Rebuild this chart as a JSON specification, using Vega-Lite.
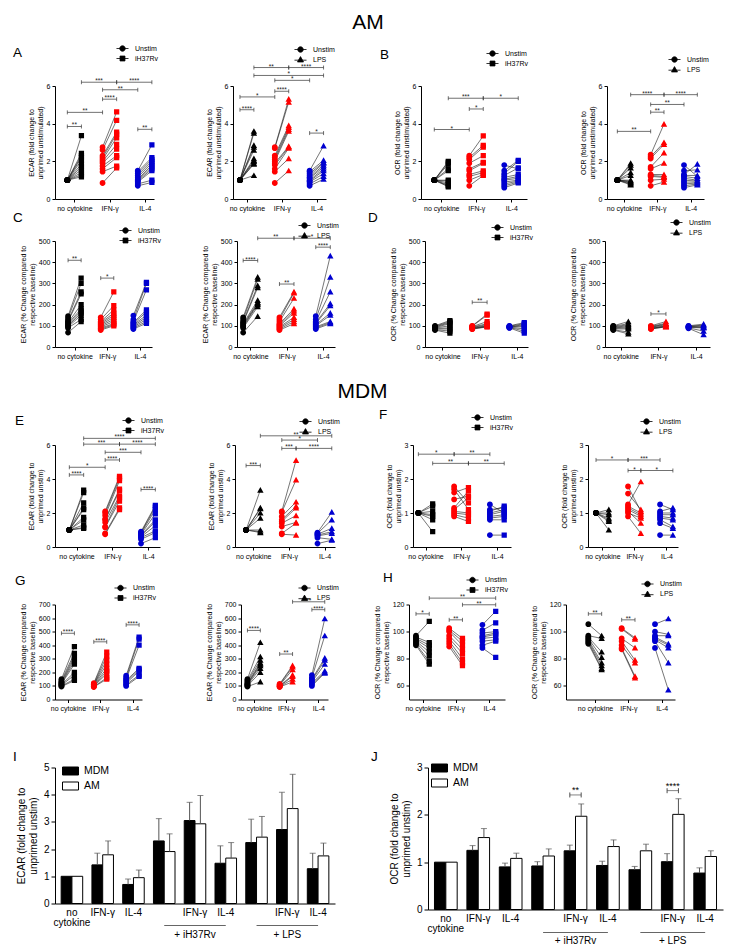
{
"$schema":"https://vega.github.io/schema/vega-lite/v6.json",
"background":"white",
"padding":{"left":13,"top":12,"right":2,"bottom":0},
"config":{
 "view":{"stroke":null},
 "font":"Liberation Sans",
 "title":{"font":"Liberation Sans","fontWeight":"normal","color":"#000"},
 "axis":{"grid":false,"domainColor":"#000","tickColor":"#000","labelColor":"#000","titleColor":"#000","labelFont":"Liberation Sans","titleFont":"Liberation Sans","labelFontSize":7,"titleFontSize":7,"titleFontWeight":"normal","tickSize":3,"labelPadding":2,"titlePadding":3,"titleLineHeight":8.5,"domainWidth":1,"tickWidth":1,"labelFlush":false,"labelOverlap":false},
 "legend":{"labelFont":"Liberation Sans","labelFontSize":7,"labelColor":"#000","symbolSize":30,"symbolStrokeColor":"#000","symbolStrokeWidth":0.8,"labelOffset":9,"rowPadding":1,"padding":0}
},
"datasets":{
"A1p":[{"g":"N","u":1,"s":3.36},{"g":"N","u":1,"s":2.42},{"g":"N","u":1,"s":2.3},{"g":"N","u":1,"s":2.2},{"g":"N","u":1,"s":2.05},{"g":"N","u":1,"s":1.85},{"g":"N","u":1,"s":1.7},{"g":"N","u":1,"s":1.55},{"g":"N","u":1,"s":1.4},{"g":"N","u":1,"s":1.28},{"g":"N","u":1,"s":1.18},{"g":"I","u":2.75,"s":4.62},{"g":"I","u":2.6,"s":4.18},{"g":"I","u":2.3,"s":3.55},{"g":"I","u":2.2,"s":3.45},{"g":"I","u":2.1,"s":3.25},{"g":"I","u":2.0,"s":2.9},{"g":"I","u":1.9,"s":2.65},{"g":"I","u":1.75,"s":2.3},{"g":"I","u":1.6,"s":2.2},{"g":"I","u":1.45,"s":1.75},{"g":"I","u":0.85,"s":1.65},{"g":"L","u":1.5,"s":2.88},{"g":"L","u":1.45,"s":2.2},{"g":"L","u":1.35,"s":2.1},{"g":"L","u":1.25,"s":2.0},{"g":"L","u":1.15,"s":1.9},{"g":"L","u":1.05,"s":1.8},{"g":"L","u":1.0,"s":1.7},{"g":"L","u":0.95,"s":1.6},{"g":"L","u":0.9,"s":1.5},{"g":"L","u":0.8,"s":1.0},{"g":"L","u":0.7,"s":0.88}],
"A1b":[{"a":"Nu","b":"Ns","y":3.85,"t":"**"},{"a":"Nu","b":"Iu","y":4.6,"t":"**"},{"a":"Iu","b":"Is","y":5.3,"t":"****"},{"a":"Iu","b":"Lu","y":5.8,"t":"**"},{"a":"Ns","b":"Is","y":6.2,"t":"***"},{"a":"Is","b":"Ls","y":6.2,"t":"****"},{"a":"Lu","b":"Ls","y":3.7,"t":"**"}],
"A2p":[{"g":"N","u":1,"s":3.6},{"g":"N","u":1,"s":3.5},{"g":"N","u":1,"s":2.85},{"g":"N","u":1,"s":2.75},{"g":"N","u":1,"s":2.6},{"g":"N","u":1,"s":2.15},{"g":"N","u":1,"s":2.05},{"g":"N","u":1,"s":2.0},{"g":"N","u":1,"s":1.9},{"g":"N","u":1,"s":1.85},{"g":"N","u":1,"s":1.25},{"g":"I","u":2.75,"s":5.3},{"g":"I","u":2.7,"s":5.15},{"g":"I","u":2.3,"s":3.9},{"g":"I","u":2.2,"s":3.8},{"g":"I","u":2.1,"s":3.7},{"g":"I","u":2.0,"s":3.6},{"g":"I","u":1.9,"s":2.8},{"g":"I","u":1.8,"s":2.75},{"g":"I","u":1.6,"s":2.7},{"g":"I","u":1.45,"s":2.15},{"g":"I","u":0.85,"s":1.5},{"g":"L","u":1.5,"s":2.82},{"g":"L","u":1.45,"s":2.05},{"g":"L","u":1.35,"s":1.95},{"g":"L","u":1.25,"s":1.9},{"g":"L","u":1.15,"s":1.8},{"g":"L","u":1.1,"s":1.7},{"g":"L","u":1.0,"s":1.6},{"g":"L","u":0.95,"s":1.5},{"g":"L","u":0.9,"s":1.35},{"g":"L","u":0.8,"s":1.2},{"g":"L","u":0.7,"s":1.05}],
"A2b":[{"a":"Nu","b":"Ns","y":4.74,"t":"****"},{"a":"Nu","b":"Iu","y":5.42,"t":"*"},{"a":"Iu","b":"Is","y":5.72,"t":"****"},{"a":"Iu","b":"Lu","y":6.3,"t":"*"},{"a":"Ns","b":"Ls","y":6.56,"t":"*"},{"a":"Ns","b":"Is","y":6.98,"t":"**"},{"a":"Is","b":"Ls","y":6.98,"t":"****"},{"a":"Lu","b":"Ls","y":3.5,"t":"*"}],
"B1p":[{"g":"N","u":1,"s":2.0},{"g":"N","u":1,"s":1.95},{"g":"N","u":1,"s":1.85},{"g":"N","u":1,"s":1.6},{"g":"N","u":1,"s":1.5},{"g":"N","u":1,"s":1.0},{"g":"N","u":1,"s":0.95},{"g":"N","u":1,"s":0.85},{"g":"N","u":1,"s":0.75},{"g":"N","u":1,"s":0.7},{"g":"N","u":1,"s":0.65},{"g":"I","u":2.3,"s":3.35},{"g":"I","u":2.2,"s":2.85},{"g":"I","u":2.1,"s":2.75},{"g":"I","u":1.9,"s":2.3},{"g":"I","u":1.6,"s":1.95},{"g":"I","u":1.5,"s":1.9},{"g":"I","u":1.3,"s":1.5},{"g":"I","u":1.2,"s":1.4},{"g":"I","u":1.0,"s":1.3},{"g":"I","u":0.7,"s":1.25},{"g":"L","u":1.8,"s":1.6},{"g":"L","u":1.5,"s":2.05},{"g":"L","u":1.35,"s":2.0},{"g":"L","u":1.25,"s":1.65},{"g":"L","u":1.15,"s":1.3},{"g":"L","u":1.05,"s":1.2},{"g":"L","u":1.0,"s":1.1},{"g":"L","u":0.9,"s":1.0},{"g":"L","u":0.8,"s":0.95},{"g":"L","u":0.7,"s":0.9},{"g":"L","u":0.6,"s":0.85}],
"B1b":[{"a":"Nu","b":"Iu","y":3.69,"t":"*"},{"a":"Iu","b":"Is","y":4.78,"t":"*"},{"a":"Ns","b":"Is","y":5.35,"t":"***"},{"a":"Is","b":"Ls","y":5.35,"t":"*"}],
"B2p":[{"g":"N","u":1,"s":1.9},{"g":"N","u":1,"s":1.8},{"g":"N","u":1,"s":1.65},{"g":"N","u":1,"s":1.4},{"g":"N","u":1,"s":1.25},{"g":"N","u":1,"s":1.0},{"g":"N","u":1,"s":0.95},{"g":"N","u":1,"s":0.9},{"g":"N","u":1,"s":0.85},{"g":"N","u":1,"s":0.8},{"g":"N","u":1,"s":0.75},{"g":"I","u":2.35,"s":3.98},{"g":"I","u":2.25,"s":3.0},{"g":"I","u":2.15,"s":2.9},{"g":"I","u":1.7,"s":2.45},{"g":"I","u":1.6,"s":1.9},{"g":"I","u":1.3,"s":1.3},{"g":"I","u":1.25,"s":1.2},{"g":"I","u":1.2,"s":1.15},{"g":"I","u":1.0,"s":1.05},{"g":"I","u":0.7,"s":0.9},{"g":"L","u":1.8,"s":1.2},{"g":"L","u":1.5,"s":1.55},{"g":"L","u":1.3,"s":1.85},{"g":"L","u":1.25,"s":1.25},{"g":"L","u":1.2,"s":1.1},{"g":"L","u":1.1,"s":1.0},{"g":"L","u":1.0,"s":0.95},{"g":"L","u":0.9,"s":0.9},{"g":"L","u":0.8,"s":0.85},{"g":"L","u":0.7,"s":0.8},{"g":"L","u":0.6,"s":0.75}],
"B2b":[{"a":"Nu","b":"Iu","y":3.59,"t":"**"},{"a":"Iu","b":"Is","y":4.61,"t":"**"},{"a":"Iu","b":"Lu","y":5.02,"t":"**"},{"a":"Ns","b":"Is","y":5.54,"t":"****"},{"a":"Is","b":"Ls","y":5.54,"t":"****"}],
"C1p":[{"g":"N","u":145,"s":325},{"g":"N","u":135,"s":300},{"g":"N","u":125,"s":260},{"g":"N","u":120,"s":250},{"g":"N","u":115,"s":200},{"g":"N","u":110,"s":180},{"g":"N","u":105,"s":170},{"g":"N","u":100,"s":160},{"g":"N","u":95,"s":150},{"g":"N","u":90,"s":130},{"g":"N","u":68,"s":120},{"g":"I","u":140,"s":260},{"g":"I","u":130,"s":195},{"g":"I","u":120,"s":175},{"g":"I","u":115,"s":160},{"g":"I","u":110,"s":150},{"g":"I","u":105,"s":140},{"g":"I","u":100,"s":130},{"g":"I","u":95,"s":120},{"g":"I","u":90,"s":110},{"g":"I","u":85,"s":105},{"g":"I","u":80,"s":100},{"g":"L","u":148,"s":305},{"g":"L","u":130,"s":300},{"g":"L","u":120,"s":270},{"g":"L","u":115,"s":175},{"g":"L","u":110,"s":165},{"g":"L","u":105,"s":150},{"g":"L","u":100,"s":140},{"g":"L","u":95,"s":130},{"g":"L","u":90,"s":120},{"g":"L","u":85,"s":112}],
"C1b":[{"a":"Nu","b":"Ns","y":409,"t":"**"},{"a":"Iu","b":"Is","y":325,"t":"*"}],
"C2p":[{"g":"N","u":140,"s":330},{"g":"N","u":130,"s":320},{"g":"N","u":120,"s":290},{"g":"N","u":115,"s":280},{"g":"N","u":110,"s":220},{"g":"N","u":105,"s":210},{"g":"N","u":100,"s":205},{"g":"N","u":95,"s":200},{"g":"N","u":90,"s":190},{"g":"N","u":68,"s":145},{"g":"I","u":140,"s":260},{"g":"I","u":130,"s":255},{"g":"I","u":120,"s":230},{"g":"I","u":110,"s":180},{"g":"I","u":105,"s":170},{"g":"I","u":100,"s":160},{"g":"I","u":95,"s":140},{"g":"I","u":90,"s":130},{"g":"I","u":85,"s":120},{"g":"I","u":80,"s":110},{"g":"L","u":145,"s":430},{"g":"L","u":130,"s":330},{"g":"L","u":120,"s":260},{"g":"L","u":115,"s":205},{"g":"L","u":110,"s":195},{"g":"L","u":105,"s":160},{"g":"L","u":100,"s":150},{"g":"L","u":95,"s":120},{"g":"L","u":90,"s":115},{"g":"L","u":85,"s":110}],
"C2b":[{"a":"Nu","b":"Ns","y":408,"t":"****"},{"a":"Iu","b":"Is","y":297,"t":"**"},{"a":"Lu","b":"Ls","y":471,"t":"****"},{"a":"Ns","b":"Is","y":513,"t":"**"},{"a":"Is","b":"Ls","y":513,"t":"*"}],
"D1p":[{"g":"N","u":100,"s":125},{"g":"N","u":97,"s":120},{"g":"N","u":95,"s":115},{"g":"N","u":92,"s":110},{"g":"N","u":90,"s":100},{"g":"N","u":88,"s":90},{"g":"N","u":85,"s":85},{"g":"N","u":82,"s":75},{"g":"N","u":80,"s":65},{"g":"I","u":100,"s":155},{"g":"I","u":98,"s":150},{"g":"I","u":96,"s":120},{"g":"I","u":94,"s":110},{"g":"I","u":92,"s":105},{"g":"I","u":90,"s":100},{"g":"I","u":88,"s":98},{"g":"I","u":86,"s":96},{"g":"I","u":84,"s":95},{"g":"L","u":100,"s":115},{"g":"L","u":98,"s":110},{"g":"L","u":96,"s":105},{"g":"L","u":95,"s":100},{"g":"L","u":94,"s":95},{"g":"L","u":93,"s":85},{"g":"L","u":92,"s":75},{"g":"L","u":90,"s":65}],
"D1b":[{"a":"Iu","b":"Is","y":211,"t":"**"}],
"D2p":[{"g":"N","u":100,"s":120},{"g":"N","u":98,"s":110},{"g":"N","u":95,"s":105},{"g":"N","u":93,"s":100},{"g":"N","u":90,"s":95},{"g":"N","u":88,"s":90},{"g":"N","u":85,"s":85},{"g":"N","u":82,"s":70},{"g":"N","u":80,"s":62},{"g":"I","u":100,"s":120},{"g":"I","u":97,"s":112},{"g":"I","u":95,"s":108},{"g":"I","u":93,"s":105},{"g":"I","u":90,"s":100},{"g":"I","u":88,"s":98},{"g":"I","u":86,"s":96},{"g":"I","u":85,"s":95},{"g":"L","u":100,"s":108},{"g":"L","u":98,"s":103},{"g":"L","u":96,"s":100},{"g":"L","u":95,"s":95},{"g":"L","u":94,"s":93},{"g":"L","u":92,"s":90},{"g":"L","u":90,"s":75},{"g":"L","u":88,"s":58}],
"D2b":[{"a":"Iu","b":"Is","y":156,"t":"*"}],
"E1p":[{"g":"N","u":1,"s":3.35},{"g":"N","u":1,"s":3.2},{"g":"N","u":1,"s":2.6},{"g":"N","u":1,"s":2.3},{"g":"N","u":1,"s":2.2},{"g":"N","u":1,"s":1.75},{"g":"N","u":1,"s":1.6},{"g":"N","u":1,"s":1.3},{"g":"N","u":1,"s":1.15},{"g":"N","u":1,"s":1.1},{"g":"I","u":2.1,"s":4.15},{"g":"I","u":2.0,"s":4.05},{"g":"I","u":1.85,"s":3.9},{"g":"I","u":1.65,"s":3.4},{"g":"I","u":1.6,"s":3.3},{"g":"I","u":1.45,"s":3.0},{"g":"I","u":1.2,"s":2.9},{"g":"I","u":1.15,"s":2.7},{"g":"I","u":0.8,"s":2.3},{"g":"I","u":0.75,"s":2.2},{"g":"L","u":0.9,"s":2.45},{"g":"L","u":0.85,"s":2.35},{"g":"L","u":0.8,"s":2.2},{"g":"L","u":0.75,"s":1.95},{"g":"L","u":0.7,"s":1.6},{"g":"L","u":0.65,"s":1.5},{"g":"L","u":0.6,"s":1.25},{"g":"L","u":0.55,"s":0.95},{"g":"L","u":0.45,"s":0.85},{"g":"L","u":0.2,"s":0.55}],
"E1b":[{"a":"Nu","b":"Ns","y":4.24,"t":"****"},{"a":"Nu","b":"Iu","y":4.69,"t":"*"},{"a":"Iu","b":"Is","y":5.12,"t":"****"},{"a":"Iu","b":"Lu","y":5.57,"t":"***"},{"a":"Ns","b":"Is","y":6.05,"t":"***"},{"a":"Is","b":"Ls","y":6.05,"t":"****"},{"a":"Ns","b":"Ls","y":6.39,"t":"****"},{"a":"Lu","b":"Ls","y":3.38,"t":"****"}],
"E2p":[{"g":"N","u":1,"s":3.35},{"g":"N","u":1,"s":2.3},{"g":"N","u":1,"s":2.25},{"g":"N","u":1,"s":2.0},{"g":"N","u":1,"s":1.7},{"g":"N","u":1,"s":1.0},{"g":"N","u":1,"s":0.9},{"g":"N","u":1,"s":0.85},{"g":"I","u":2.1,"s":5.1},{"g":"I","u":2.05,"s":3.95},{"g":"I","u":1.8,"s":2.65},{"g":"I","u":1.6,"s":2.4},{"g":"I","u":1.5,"s":2.3},{"g":"I","u":1.4,"s":1.85},{"g":"I","u":1.2,"s":1.45},{"g":"I","u":0.8,"s":1.4},{"g":"I","u":0.75,"s":0.7},{"g":"L","u":0.85,"s":2.05},{"g":"L","u":0.8,"s":1.6},{"g":"L","u":0.75,"s":1.1},{"g":"L","u":0.7,"s":0.9},{"g":"L","u":0.65,"s":0.8},{"g":"L","u":0.55,"s":0.45},{"g":"L","u":0.2,"s":0.4}],
"E2b":[{"a":"Nu","b":"Ns","y":4.79,"t":"***"},{"a":"Iu","b":"Is","y":5.8,"t":"***"},{"a":"Is","b":"Ls","y":5.8,"t":"****"},{"a":"Iu","b":"Lu","y":6.29,"t":"*"},{"a":"Ns","b":"Ls","y":6.54,"t":"**"}],
"F1p":[{"g":"N","u":1,"s":1.27},{"g":"N","u":1,"s":1.2},{"g":"N","u":1,"s":1.05},{"g":"N","u":1,"s":0.95},{"g":"N","u":1,"s":0.9},{"g":"N","u":1,"s":0.8},{"g":"N","u":1,"s":0.45},{"g":"I","u":1.78,"s":1.3},{"g":"I","u":1.7,"s":1.1},{"g":"I","u":1.6,"s":1.75},{"g":"I","u":1.4,"s":1.5},{"g":"I","u":1.15,"s":1.65},{"g":"I","u":1.1,"s":1.45},{"g":"I","u":1.05,"s":1.0},{"g":"I","u":1.0,"s":0.95},{"g":"I","u":0.95,"s":0.85},{"g":"I","u":0.9,"s":0.75},{"g":"L","u":1.25,"s":1.0},{"g":"L","u":1.1,"s":1.15},{"g":"L","u":1.05,"s":1.2},{"g":"L","u":1.0,"s":1.1},{"g":"L","u":0.95,"s":1.05},{"g":"L","u":0.9,"s":0.95},{"g":"L","u":0.85,"s":0.9},{"g":"L","u":0.8,"s":0.8},{"g":"L","u":0.35,"s":0.35}],
"F1b":[{"a":"Nu","b":"Iu","y":2.73,"t":"*"},{"a":"Iu","b":"Lu","y":2.73,"t":"**"},{"a":"Ns","b":"Is","y":2.46,"t":"**"},{"a":"Is","b":"Ls","y":2.46,"t":"**"}],
"F2p":[{"g":"N","u":1,"s":1.1},{"g":"N","u":1,"s":1.0},{"g":"N","u":1,"s":0.95},{"g":"N","u":1,"s":0.85},{"g":"N","u":1,"s":0.8},{"g":"N","u":1,"s":0.75},{"g":"N","u":1,"s":0.5},{"g":"I","u":1.78,"s":1.05},{"g":"I","u":1.57,"s":1.1},{"g":"I","u":1.25,"s":1.92},{"g":"I","u":1.2,"s":1.0},{"g":"I","u":1.15,"s":0.95},{"g":"I","u":1.1,"s":0.9},{"g":"I","u":1.05,"s":0.7},{"g":"I","u":1.0,"s":0.85},{"g":"I","u":0.9,"s":0.4},{"g":"L","u":1.25,"s":1.1},{"g":"L","u":1.05,"s":1.15},{"g":"L","u":1.0,"s":1.0},{"g":"L","u":0.95,"s":0.95},{"g":"L","u":0.9,"s":0.85},{"g":"L","u":0.85,"s":0.8},{"g":"L","u":0.8,"s":0.6},{"g":"L","u":0.7,"s":0.55},{"g":"L","u":0.35,"s":0.35}],
"F2b":[{"a":"Nu","b":"Iu","y":2.56,"t":"*"},{"a":"Iu","b":"Lu","y":2.56,"t":"***"},{"a":"Iu","b":"Is","y":2.25,"t":"*"},{"a":"Is","b":"Ls","y":2.25,"t":"*"}],
"G1p":[{"g":"N","u":150,"s":390},{"g":"N","u":140,"s":340},{"g":"N","u":130,"s":320},{"g":"N","u":125,"s":300},{"g":"N","u":120,"s":280},{"g":"N","u":115,"s":260},{"g":"N","u":110,"s":200},{"g":"N","u":105,"s":180},{"g":"N","u":100,"s":150},{"g":"N","u":95,"s":140},{"g":"I","u":120,"s":350},{"g":"I","u":115,"s":320},{"g":"I","u":110,"s":290},{"g":"I","u":108,"s":260},{"g":"I","u":105,"s":230},{"g":"I","u":100,"s":210},{"g":"I","u":98,"s":190},{"g":"I","u":95,"s":160},{"g":"I","u":92,"s":150},{"g":"L","u":175,"s":460},{"g":"L","u":160,"s":445},{"g":"L","u":150,"s":400},{"g":"L","u":140,"s":230},{"g":"L","u":130,"s":220},{"g":"L","u":120,"s":210},{"g":"L","u":110,"s":180},{"g":"L","u":100,"s":170}],
"G1b":[{"a":"Nu","b":"Ns","y":488,"t":"****"},{"a":"Iu","b":"Is","y":425,"t":"****"},{"a":"Lu","b":"Ls","y":550,"t":"****"}],
"G2p":[{"g":"N","u":150,"s":420},{"g":"N","u":140,"s":315},{"g":"N","u":130,"s":290},{"g":"N","u":120,"s":270},{"g":"N","u":115,"s":260},{"g":"N","u":110,"s":250},{"g":"N","u":105,"s":230},{"g":"N","u":100,"s":200},{"g":"N","u":95,"s":130},{"g":"I","u":115,"s":250},{"g":"I","u":110,"s":240},{"g":"I","u":105,"s":220},{"g":"I","u":100,"s":180},{"g":"I","u":98,"s":170},{"g":"I","u":95,"s":150},{"g":"I","u":92,"s":130},{"g":"L","u":180,"s":595},{"g":"L","u":160,"s":470},{"g":"L","u":150,"s":305},{"g":"L","u":140,"s":290},{"g":"L","u":130,"s":260},{"g":"L","u":120,"s":210},{"g":"L","u":110,"s":200},{"g":"L","u":100,"s":195}],
"G2b":[{"a":"Nu","b":"Ns","y":509,"t":"****"},{"a":"Iu","b":"Is","y":335,"t":"**"},{"a":"Lu","b":"Ls","y":662,"t":"****"},{"a":"Is","b":"Ls","y":720,"t":"**"}],
"H1p":[{"g":"N","u":97,"s":107.5},{"g":"N","u":96,"s":92},{"g":"N","u":95,"s":90},{"g":"N","u":94,"s":88},{"g":"N","u":93,"s":85},{"g":"N","u":92,"s":82},{"g":"N","u":91,"s":78},{"g":"N","u":90,"s":76},{"g":"I","u":102.5,"s":95},{"g":"I","u":101,"s":93},{"g":"I","u":100,"s":90},{"g":"I","u":97,"s":87},{"g":"I","u":95,"s":84},{"g":"I","u":93,"s":80},{"g":"I","u":91,"s":77},{"g":"I","u":89,"s":75},{"g":"L","u":105,"s":115},{"g":"L","u":101,"s":106.5},{"g":"L","u":99,"s":100},{"g":"L","u":97,"s":99},{"g":"L","u":96,"s":98},{"g":"L","u":95,"s":96},{"g":"L","u":93,"s":94},{"g":"L","u":90,"s":93},{"g":"L","u":88,"s":81}],
"H1b":[{"a":"Nu","b":"Ns","y":113.1,"t":"*"},{"a":"Iu","b":"Is","y":108.7,"t":"**"},{"a":"Ns","b":"Ls","y":124.7,"t":"**"},{"a":"Is","b":"Ls","y":119.8,"t":"**"}],
"H2p":[{"g":"N","u":105.5,"s":97},{"g":"N","u":97,"s":95},{"g":"N","u":96,"s":85},{"g":"N","u":95,"s":81},{"g":"N","u":94,"s":77},{"g":"N","u":93,"s":75},{"g":"N","u":92,"s":73},{"g":"N","u":91,"s":72},{"g":"I","u":102.5,"s":95.5},{"g":"I","u":102,"s":94.5},{"g":"I","u":95,"s":88},{"g":"I","u":93,"s":79},{"g":"I","u":90,"s":77},{"g":"I","u":88,"s":67},{"g":"I","u":87,"s":66},{"g":"L","u":105.5,"s":109.5},{"g":"L","u":100,"s":98},{"g":"L","u":97,"s":97},{"g":"L","u":96,"s":91},{"g":"L","u":95,"s":90},{"g":"L","u":94,"s":88},{"g":"L","u":93,"s":77},{"g":"L","u":88,"s":57}],
"H2b":[{"a":"Nu","b":"Ns","y":113.1,"t":"**"},{"a":"Iu","b":"Is","y":108.7,"t":"**"}],
"Ib":[{"c":"nc","t":"MDM","m":1.0},{"c":"nc","t":"AM","m":1.0},{"c":"IFN","t":"MDM","m":1.42,"e":1.85},{"c":"IFN","t":"AM","m":1.79,"e":2.3},{"c":"IL4","t":"MDM","m":0.7,"e":0.9},{"c":"IL4","t":"AM","m":0.95,"e":1.23},{"c":"H","t":"MDM","m":2.3,"e":3.12},{"c":"H","t":"AM","m":1.91,"e":2.56},{"c":"HIFN","t":"MDM","m":3.05,"e":3.72},{"c":"HIFN","t":"AM","m":2.93,"e":3.97},{"c":"HIL4","t":"MDM","m":1.48,"e":2.12},{"c":"HIL4","t":"AM","m":1.67,"e":2.24},{"c":"L","t":"MDM","m":2.24,"e":3.1},{"c":"L","t":"AM","m":2.44,"e":3.2},{"c":"LIFN","t":"MDM","m":2.72,"e":4.09},{"c":"LIFN","t":"AM","m":3.49,"e":4.75},{"c":"LIL4","t":"MDM","m":1.28,"e":1.85},{"c":"LIL4","t":"AM","m":1.75,"e":2.22}],
"Jb":[{"c":"nc","t":"MDM","m":1.0},{"c":"nc","t":"AM","m":1.0},{"c":"IFN","t":"MDM","m":1.25,"e":1.35},{"c":"IFN","t":"AM","m":1.52,"e":1.71},{"c":"IL4","t":"MDM","m":0.9,"e":0.98},{"c":"IL4","t":"AM","m":1.08,"e":1.19},{"c":"H","t":"MDM","m":0.92,"e":1.01},{"c":"H","t":"AM","m":1.13,"e":1.28},{"c":"HIFN","t":"MDM","m":1.24,"e":1.36},{"c":"HIFN","t":"AM","m":1.97,"e":2.23},{"c":"HIL4","t":"MDM","m":0.93,"e":1.02},{"c":"HIL4","t":"AM","m":1.33,"e":1.47},{"c":"L","t":"MDM","m":0.84,"e":0.91},{"c":"L","t":"AM","m":1.24,"e":1.38},{"c":"LIFN","t":"MDM","m":1.01,"e":1.18},{"c":"LIFN","t":"AM","m":2.01,"e":2.34},{"c":"LIL4","t":"MDM","m":0.77,"e":0.88},{"c":"LIL4","t":"AM","m":1.12,"e":1.24}],
"Jbr":[{"c":"HIFN","y":2.42,"t":"**"},{"c":"LIFN","y":2.51,"t":"****"}],
"ann":[{"c":"H","c2":"HIL4","cm":"HIFN","t":"+ iH37Rv"},{"c":"L","c2":"LIL4","cm":"LIFN","t":"+ LPS"}]
},
"vconcat":[
{"vconcat":[
 {"title":{"text":"AM","fontSize":21,"anchor":"middle","frame":"bounds","offset":12,"dx":6},
  "vconcat":[
  {"hconcat":[
   {"hconcat":[
    {"width":99,"height":113,"title":{"text":"A","anchor":"start","frame":"bounds","fontSize":13.5,"offset":-14,"dx":-14.6},
     "encoding":{"x":{"field":"x","type":"quantitative","scale":{"domain":[-0.55,2.26],"nice":false,"zero":false},"axis":{"values":[0,1,2],"labelExpr":"['no cytokine','IFN-γ','IL-4'][datum.value]","title":null}},"y":{"field":"y","type":"quantitative","scale":{"domain":[0,6],"nice":false,"zero":false},"axis":{"values":[0,2,4,6],"title":["ECAR (fold change to","unprimed unstimulated)"]}}},
     "layer":[
      {"data":{"name":"A1p"},"transform":[{"calculate":"indexof(['N','I','L'],datum.g)","as":"c"}],"layer":[
       {"transform":[{"calculate":"datum.c-0.2","as":"x"},{"calculate":"datum.c+0.2","as":"x2"},{"calculate":"datum.u","as":"y"}],"mark":{"type":"rule","color":"#1a1a1a","strokeWidth":0.6},"encoding":{"x2":{"field":"x2"},"y2":{"field":"s"}}},
       {"transform":[{"fold":["u","s"],"as":["k","y"]},{"calculate":"datum.c+(datum.k=='u'?-0.2:0.2)","as":"x"}],"mark":{"type":"point","filled":true,"size":34,"opacity":1,"strokeWidth":0},"encoding":{"shape":{"field":"k","type":"nominal","scale":{"domain":["u","s"],"range":["M-2.2,0L2.2,0M1,0A1,1,0,1,1,-1,0A1,1,0,1,1,1,0Z","M-2.2,0L2.2,0M-0.9,-0.9L0.9,-0.9L0.9,0.9L-0.9,0.9Z"]},"legend":{"orient":"none","legendX":64,"legendY":-41,"title":null,"labelExpr":"datum.value=='u'?'Unstim':'iH37Rv'","symbolFillColor":"#000"}},"color":{"field":"g","type":"nominal","scale":{"domain":["N","I","L"],"range":["#000000","#ff0000","#0000d0"]},"legend":null}}}
      ]},
      {"data":{"name":"A1b"},"transform":[{"calculate":"indexof('NIL',substring(datum.a,0,1))+(substring(datum.a,1,2)=='u'?-0.2:0.2)","as":"x"},{"calculate":"indexof('NIL',substring(datum.b,0,1))+(substring(datum.b,1,2)=='u'?-0.2:0.2)","as":"x2"}],"layer":[
       {"mark":{"type":"rule","color":"#333","strokeWidth":0.7},"encoding":{"x2":{"field":"x2"}}},
       {"transform":[{"fold":["x","x2"],"as":["q","x"]}],"mark":{"type":"point","shape":"M0,-1L0,1","size":16,"filled":false,"color":"#333","strokeWidth":0.7,"opacity":1}},
       {"transform":[{"calculate":"(datum.x+datum.x2)/2","as":"x"}],"mark":{"type":"text","fontSize":6.5,"dy":-1,"baseline":"middle","color":"#222"},"encoding":{"text":{"field":"t"}}}
      ]}
     ]},
    {"width":93,"height":113,
     "encoding":{"x":{"field":"x","type":"quantitative","scale":{"domain":[-0.4,2.27],"nice":false,"zero":false},"axis":{"values":[0,1,2],"labelExpr":"['no cytokine','IFN-γ','IL-4'][datum.value]","title":null}},"y":{"field":"y","type":"quantitative","scale":{"domain":[0,6],"nice":false,"zero":false},"axis":{"values":[0,2,4,6],"title":["ECAR (fold change to","unprimed unstimulated)"]}}},
     "layer":[
      {"data":{"name":"A2p"},"transform":[{"calculate":"indexof(['N','I','L'],datum.g)","as":"c"}],"layer":[
       {"transform":[{"calculate":"datum.c-0.2","as":"x"},{"calculate":"datum.c+0.2","as":"x2"},{"calculate":"datum.u","as":"y"}],"mark":{"type":"rule","color":"#1a1a1a","strokeWidth":0.6},"encoding":{"x2":{"field":"x2"},"y2":{"field":"s"}}},
       {"transform":[{"fold":["u","s"],"as":["k","y"]},{"calculate":"datum.c+(datum.k=='u'?-0.2:0.2)","as":"x"}],"mark":{"type":"point","filled":true,"size":34,"opacity":1,"strokeWidth":0},"encoding":{"shape":{"field":"k","type":"nominal","scale":{"domain":["u","s"],"range":["M-2.2,0L2.2,0M1,0A1,1,0,1,1,-1,0A1,1,0,1,1,1,0Z","M-2.2,0.25L2.2,0.25M0,-1.05L1.1,0.9L-1.1,0.9Z"]},"legend":{"orient":"none","legendX":64,"legendY":-40,"title":null,"labelExpr":"datum.value=='u'?'Unstim':'LPS'","symbolFillColor":"#000"}},"color":{"field":"g","type":"nominal","scale":{"domain":["N","I","L"],"range":["#000000","#ff0000","#0000d0"]},"legend":null}}}
      ]},
      {"data":{"name":"A2b"},"transform":[{"calculate":"indexof('NIL',substring(datum.a,0,1))+(substring(datum.a,1,2)=='u'?-0.2:0.2)","as":"x"},{"calculate":"indexof('NIL',substring(datum.b,0,1))+(substring(datum.b,1,2)=='u'?-0.2:0.2)","as":"x2"}],"layer":[
       {"mark":{"type":"rule","color":"#333","strokeWidth":0.7},"encoding":{"x2":{"field":"x2"}}},
       {"transform":[{"fold":["x","x2"],"as":["q","x"]}],"mark":{"type":"point","shape":"M0,-1L0,1","size":16,"filled":false,"color":"#333","strokeWidth":0.7,"opacity":1}},
       {"transform":[{"calculate":"(datum.x+datum.x2)/2","as":"x"}],"mark":{"type":"text","fontSize":6.5,"dy":-1,"baseline":"middle","color":"#222"},"encoding":{"text":{"field":"t"}}}
      ]}
     ]}
   ],"spacing":46,"resolve":{"scale":{"x":"independent","y":"independent","shape":"independent","color":"independent"}}},
   {"hconcat":[
    {"width":106,"height":113,"title":{"text":"B","anchor":"start","frame":"bounds","fontSize":13.5,"offset":-11.5,"dx":-13.6},
     "encoding":{"x":{"field":"x","type":"quantitative","scale":{"domain":[-0.58,2.45],"nice":false,"zero":false},"axis":{"values":[0,1,2],"labelExpr":"['no cytokine','IFN-γ','IL-4'][datum.value]","title":null}},"y":{"field":"y","type":"quantitative","scale":{"domain":[0,6],"nice":false,"zero":false},"axis":{"values":[0,2,4,6],"title":["OCR (fold change to","unprimed unstimulated)"]}}},
     "layer":[
      {"data":{"name":"B1p"},"transform":[{"calculate":"indexof(['N','I','L'],datum.g)","as":"c"}],"layer":[
       {"transform":[{"calculate":"datum.c-0.2","as":"x"},{"calculate":"datum.c+0.2","as":"x2"},{"calculate":"datum.u","as":"y"}],"mark":{"type":"rule","color":"#1a1a1a","strokeWidth":0.6},"encoding":{"x2":{"field":"x2"},"y2":{"field":"s"}}},
       {"transform":[{"fold":["u","s"],"as":["k","y"]},{"calculate":"datum.c+(datum.k=='u'?-0.2:0.2)","as":"x"}],"mark":{"type":"point","filled":true,"size":34,"opacity":1,"strokeWidth":0},"encoding":{"shape":{"field":"k","type":"nominal","scale":{"domain":["u","s"],"range":["M-2.2,0L2.2,0M1,0A1,1,0,1,1,-1,0A1,1,0,1,1,1,0Z","M-2.2,0L2.2,0M-0.9,-0.9L0.9,-0.9L0.9,0.9L-0.9,0.9Z"]},"legend":{"orient":"none","legendX":68,"legendY":-36,"title":null,"labelExpr":"datum.value=='u'?'Unstim':'iH37Rv'","symbolFillColor":"#000"}},"color":{"field":"g","type":"nominal","scale":{"domain":["N","I","L"],"range":["#000000","#ff0000","#0000d0"]},"legend":null}}}
      ]},
      {"data":{"name":"B1b"},"transform":[{"calculate":"indexof('NIL',substring(datum.a,0,1))+(substring(datum.a,1,2)=='u'?-0.2:0.2)","as":"x"},{"calculate":"indexof('NIL',substring(datum.b,0,1))+(substring(datum.b,1,2)=='u'?-0.2:0.2)","as":"x2"}],"layer":[
       {"mark":{"type":"rule","color":"#333","strokeWidth":0.7},"encoding":{"x2":{"field":"x2"}}},
       {"transform":[{"fold":["x","x2"],"as":["q","x"]}],"mark":{"type":"point","shape":"M0,-1L0,1","size":16,"filled":false,"color":"#333","strokeWidth":0.7,"opacity":1}},
       {"transform":[{"calculate":"(datum.x+datum.x2)/2","as":"x"}],"mark":{"type":"text","fontSize":6.5,"dy":-1,"baseline":"middle","color":"#222"},"encoding":{"text":{"field":"t"}}}
      ]}
     ]},
    {"width":97,"height":113,
     "encoding":{"x":{"field":"x","type":"quantitative","scale":{"domain":[-0.51,2.4],"nice":false,"zero":false},"axis":{"values":[0,1,2],"labelExpr":"['no cytokine','IFN-γ','IL-4'][datum.value]","title":null}},"y":{"field":"y","type":"quantitative","scale":{"domain":[0,6],"nice":false,"zero":false},"axis":{"values":[0,2,4,6],"title":["OCR (fold change to","unprimed unstimulated)"]}}},
     "layer":[
      {"data":{"name":"B2p"},"transform":[{"calculate":"indexof(['N','I','L'],datum.g)","as":"c"}],"layer":[
       {"transform":[{"calculate":"datum.c-0.2","as":"x"},{"calculate":"datum.c+0.2","as":"x2"},{"calculate":"datum.u","as":"y"}],"mark":{"type":"rule","color":"#1a1a1a","strokeWidth":0.6},"encoding":{"x2":{"field":"x2"},"y2":{"field":"s"}}},
       {"transform":[{"fold":["u","s"],"as":["k","y"]},{"calculate":"datum.c+(datum.k=='u'?-0.2:0.2)","as":"x"}],"mark":{"type":"point","filled":true,"size":34,"opacity":1,"strokeWidth":0},"encoding":{"shape":{"field":"k","type":"nominal","scale":{"domain":["u","s"],"range":["M-2.2,0L2.2,0M1,0A1,1,0,1,1,-1,0A1,1,0,1,1,1,0Z","M-2.2,0.25L2.2,0.25M0,-1.05L1.1,0.9L-1.1,0.9Z"]},"legend":{"orient":"none","legendX":64,"legendY":-30,"title":null,"labelExpr":"datum.value=='u'?'Unstim':'LPS'","symbolFillColor":"#000"}},"color":{"field":"g","type":"nominal","scale":{"domain":["N","I","L"],"range":["#000000","#ff0000","#0000d0"]},"legend":null}}}
      ]},
      {"data":{"name":"B2b"},"transform":[{"calculate":"indexof('NIL',substring(datum.a,0,1))+(substring(datum.a,1,2)=='u'?-0.2:0.2)","as":"x"},{"calculate":"indexof('NIL',substring(datum.b,0,1))+(substring(datum.b,1,2)=='u'?-0.2:0.2)","as":"x2"}],"layer":[
       {"mark":{"type":"rule","color":"#333","strokeWidth":0.7},"encoding":{"x2":{"field":"x2"}}},
       {"transform":[{"fold":["x","x2"],"as":["q","x"]}],"mark":{"type":"point","shape":"M0,-1L0,1","size":16,"filled":false,"color":"#333","strokeWidth":0.7,"opacity":1}},
       {"transform":[{"calculate":"(datum.x+datum.x2)/2","as":"x"}],"mark":{"type":"text","fontSize":6.5,"dy":-1,"baseline":"middle","color":"#222"},"encoding":{"text":{"field":"t"}}}
      ]}
     ]}
   ],"spacing":51,"resolve":{"scale":{"x":"independent","y":"independent","shape":"independent","color":"independent"}}}
  ],"spacing":45,"resolve":{"scale":{"x":"independent","y":"independent","shape":"independent","color":"independent"}}},
  {"hconcat":[
   {"hconcat":[
    {"width":97,"height":106,"title":{"text":"C","anchor":"start","frame":"bounds","fontSize":13.5,"offset":2.5,"dx":-6.8},
     "encoding":{"x":{"field":"x","type":"quantitative","scale":{"domain":[-0.6,2.37],"nice":false,"zero":false},"axis":{"values":[0,1,2],"labelExpr":"['no cytokine','IFN-γ','IL-4'][datum.value]","title":null}},"y":{"field":"y","type":"quantitative","scale":{"domain":[0,500],"nice":false,"zero":false},"axis":{"values":[0,100,200,300,400,500],"title":["ECAR (% Change compared to","respective baseline)"]}}},
     "layer":[
      {"data":{"name":"C1p"},"transform":[{"calculate":"indexof(['N','I','L'],datum.g)","as":"c"}],"layer":[
       {"transform":[{"calculate":"datum.c-0.2","as":"x"},{"calculate":"datum.c+0.2","as":"x2"},{"calculate":"datum.u","as":"y"}],"mark":{"type":"rule","color":"#1a1a1a","strokeWidth":0.6},"encoding":{"x2":{"field":"x2"},"y2":{"field":"s"}}},
       {"transform":[{"fold":["u","s"],"as":["k","y"]},{"calculate":"datum.c+(datum.k=='u'?-0.2:0.2)","as":"x"}],"mark":{"type":"point","filled":true,"size":34,"opacity":1,"strokeWidth":0},"encoding":{"shape":{"field":"k","type":"nominal","scale":{"domain":["u","s"],"range":["M-2.2,0L2.2,0M1,0A1,1,0,1,1,-1,0A1,1,0,1,1,1,0Z","M-2.2,0L2.2,0M-0.9,-0.9L0.9,-0.9L0.9,0.9L-0.9,0.9Z"]},"legend":{"orient":"none","legendX":67,"legendY":-14,"title":null,"labelExpr":"datum.value=='u'?'Unstim':'iH37Rv'","symbolFillColor":"#000"}},"color":{"field":"g","type":"nominal","scale":{"domain":["N","I","L"],"range":["#000000","#ff0000","#0000d0"]},"legend":null}}}
      ]},
      {"data":{"name":"C1b"},"transform":[{"calculate":"indexof('NIL',substring(datum.a,0,1))+(substring(datum.a,1,2)=='u'?-0.2:0.2)","as":"x"},{"calculate":"indexof('NIL',substring(datum.b,0,1))+(substring(datum.b,1,2)=='u'?-0.2:0.2)","as":"x2"}],"layer":[
       {"mark":{"type":"rule","color":"#333","strokeWidth":0.7},"encoding":{"x2":{"field":"x2"}}},
       {"transform":[{"fold":["x","x2"],"as":["q","x"]}],"mark":{"type":"point","shape":"M0,-1L0,1","size":16,"filled":false,"color":"#333","strokeWidth":0.7,"opacity":1}},
       {"transform":[{"calculate":"(datum.x+datum.x2)/2","as":"x"}],"mark":{"type":"text","fontSize":6.5,"dy":-1,"baseline":"middle","color":"#222"},"encoding":{"text":{"field":"t"}}}
      ]}
     ]},
    {"width":98,"height":106,
     "encoding":{"x":{"field":"x","type":"quantitative","scale":{"domain":[-0.37,2.33],"nice":false,"zero":false},"axis":{"values":[0,1,2],"labelExpr":"['no cytokine','IFN-γ','IL-4'][datum.value]","title":null}},"y":{"field":"y","type":"quantitative","scale":{"domain":[0,500],"nice":false,"zero":false},"axis":{"values":[0,100,200,300,400,500],"title":["ECAR (% Change compared to","respective baseline)"]}}},
     "layer":[
      {"data":{"name":"C2p"},"transform":[{"calculate":"indexof(['N','I','L'],datum.g)","as":"c"}],"layer":[
       {"transform":[{"calculate":"datum.c-0.2","as":"x"},{"calculate":"datum.c+0.2","as":"x2"},{"calculate":"datum.u","as":"y"}],"mark":{"type":"rule","color":"#1a1a1a","strokeWidth":0.6},"encoding":{"x2":{"field":"x2"},"y2":{"field":"s"}}},
       {"transform":[{"fold":["u","s"],"as":["k","y"]},{"calculate":"datum.c+(datum.k=='u'?-0.2:0.2)","as":"x"}],"mark":{"type":"point","filled":true,"size":34,"opacity":1,"strokeWidth":0},"encoding":{"shape":{"field":"k","type":"nominal","scale":{"domain":["u","s"],"range":["M-2.2,0L2.2,0M1,0A1,1,0,1,1,-1,0A1,1,0,1,1,1,0Z","M-2.2,0.25L2.2,0.25M0,-1.05L1.1,0.9L-1.1,0.9Z"]},"legend":{"orient":"none","legendX":64,"legendY":-19,"title":null,"labelExpr":"datum.value=='u'?'Unstim':'LPS'","symbolFillColor":"#000"}},"color":{"field":"g","type":"nominal","scale":{"domain":["N","I","L"],"range":["#000000","#ff0000","#0000d0"]},"legend":null}}}
      ]},
      {"data":{"name":"C2b"},"transform":[{"calculate":"indexof('NIL',substring(datum.a,0,1))+(substring(datum.a,1,2)=='u'?-0.2:0.2)","as":"x"},{"calculate":"indexof('NIL',substring(datum.b,0,1))+(substring(datum.b,1,2)=='u'?-0.2:0.2)","as":"x2"}],"layer":[
       {"mark":{"type":"rule","color":"#333","strokeWidth":0.7},"encoding":{"x2":{"field":"x2"}}},
       {"transform":[{"fold":["x","x2"],"as":["q","x"]}],"mark":{"type":"point","shape":"M0,-1L0,1","size":16,"filled":false,"color":"#333","strokeWidth":0.7,"opacity":1}},
       {"transform":[{"calculate":"(datum.x+datum.x2)/2","as":"x"}],"mark":{"type":"text","fontSize":6.5,"dy":-1,"baseline":"middle","color":"#222"},"encoding":{"text":{"field":"t"}}}
      ]}
     ]}
   ],"spacing":40,"resolve":{"scale":{"x":"independent","y":"independent","shape":"independent","color":"independent"}}},
   {"hconcat":[
    {"width":103,"height":106,"title":{"text":"D","anchor":"start","frame":"bounds","fontSize":13.5,"offset":-0.5,"dx":-21.8},
     "encoding":{"x":{"field":"x","type":"quantitative","scale":{"domain":[-0.47,2.3],"nice":false,"zero":false},"axis":{"values":[0,1,2],"labelExpr":"['no cytokine','IFN-γ','IL-4'][datum.value]","title":null}},"y":{"field":"y","type":"quantitative","scale":{"domain":[0,500],"nice":false,"zero":false},"axis":{"values":[0,100,200,300,400,500],"title":["OCR (% Change compared to","respective baseline)"]}}},
     "layer":[
      {"data":{"name":"D1p"},"transform":[{"calculate":"indexof(['N','I','L'],datum.g)","as":"c"}],"layer":[
       {"transform":[{"calculate":"datum.c-0.2","as":"x"},{"calculate":"datum.c+0.2","as":"x2"},{"calculate":"datum.u","as":"y"}],"mark":{"type":"rule","color":"#1a1a1a","strokeWidth":0.6},"encoding":{"x2":{"field":"x2"},"y2":{"field":"s"}}},
       {"transform":[{"fold":["u","s"],"as":["k","y"]},{"calculate":"datum.c+(datum.k=='u'?-0.2:0.2)","as":"x"}],"mark":{"type":"point","filled":true,"size":34,"opacity":1,"strokeWidth":0},"encoding":{"shape":{"field":"k","type":"nominal","scale":{"domain":["u","s"],"range":["M-2.2,0L2.2,0M1,0A1,1,0,1,1,-1,0A1,1,0,1,1,1,0Z","M-2.2,0L2.2,0M-0.9,-0.9L0.9,-0.9L0.9,0.9L-0.9,0.9Z"]},"legend":{"orient":"none","legendX":69,"legendY":-17,"title":null,"labelExpr":"datum.value=='u'?'Unstim':'iH37Rv'","symbolFillColor":"#000"}},"color":{"field":"g","type":"nominal","scale":{"domain":["N","I","L"],"range":["#000000","#ff0000","#0000d0"]},"legend":null}}}
      ]},
      {"data":{"name":"D1b"},"transform":[{"calculate":"indexof('NIL',substring(datum.a,0,1))+(substring(datum.a,1,2)=='u'?-0.2:0.2)","as":"x"},{"calculate":"indexof('NIL',substring(datum.b,0,1))+(substring(datum.b,1,2)=='u'?-0.2:0.2)","as":"x2"}],"layer":[
       {"mark":{"type":"rule","color":"#333","strokeWidth":0.7},"encoding":{"x2":{"field":"x2"}}},
       {"transform":[{"fold":["x","x2"],"as":["q","x"]}],"mark":{"type":"point","shape":"M0,-1L0,1","size":16,"filled":false,"color":"#333","strokeWidth":0.7,"opacity":1}},
       {"transform":[{"calculate":"(datum.x+datum.x2)/2","as":"x"}],"mark":{"type":"text","fontSize":6.5,"dy":-1,"baseline":"middle","color":"#222"},"encoding":{"text":{"field":"t"}}}
      ]}
     ]},
    {"width":105,"height":106,
     "encoding":{"x":{"field":"x","type":"quantitative","scale":{"domain":[-0.42,2.37],"nice":false,"zero":false},"axis":{"values":[0,1,2],"labelExpr":"['no cytokine','IFN-γ','IL-4'][datum.value]","title":null}},"y":{"field":"y","type":"quantitative","scale":{"domain":[0,500],"nice":false,"zero":false},"axis":{"values":[0,100,200,300,400,500],"title":["OCR (% Change compared to","respective baseline)"]}}},
     "layer":[
      {"data":{"name":"D2p"},"transform":[{"calculate":"indexof(['N','I','L'],datum.g)","as":"c"}],"layer":[
       {"transform":[{"calculate":"datum.c-0.2","as":"x"},{"calculate":"datum.c+0.2","as":"x2"},{"calculate":"datum.u","as":"y"}],"mark":{"type":"rule","color":"#1a1a1a","strokeWidth":0.6},"encoding":{"x2":{"field":"x2"},"y2":{"field":"s"}}},
       {"transform":[{"fold":["u","s"],"as":["k","y"]},{"calculate":"datum.c+(datum.k=='u'?-0.2:0.2)","as":"x"}],"mark":{"type":"point","filled":true,"size":34,"opacity":1,"strokeWidth":0},"encoding":{"shape":{"field":"k","type":"nominal","scale":{"domain":["u","s"],"range":["M-2.2,0L2.2,0M1,0A1,1,0,1,1,-1,0A1,1,0,1,1,1,0Z","M-2.2,0.25L2.2,0.25M0,-1.05L1.1,0.9L-1.1,0.9Z"]},"legend":{"orient":"none","legendX":68,"legendY":-22,"title":null,"labelExpr":"datum.value=='u'?'Unstim':'LPS'","symbolFillColor":"#000"}},"color":{"field":"g","type":"nominal","scale":{"domain":["N","I","L"],"range":["#000000","#ff0000","#0000d0"]},"legend":null}}}
      ]},
      {"data":{"name":"D2b"},"transform":[{"calculate":"indexof('NIL',substring(datum.a,0,1))+(substring(datum.a,1,2)=='u'?-0.2:0.2)","as":"x"},{"calculate":"indexof('NIL',substring(datum.b,0,1))+(substring(datum.b,1,2)=='u'?-0.2:0.2)","as":"x2"}],"layer":[
       {"mark":{"type":"rule","color":"#333","strokeWidth":0.7},"encoding":{"x2":{"field":"x2"}}},
       {"transform":[{"fold":["x","x2"],"as":["q","x"]}],"mark":{"type":"point","shape":"M0,-1L0,1","size":16,"filled":false,"color":"#333","strokeWidth":0.7,"opacity":1}},
       {"transform":[{"calculate":"(datum.x+datum.x2)/2","as":"x"}],"mark":{"type":"text","fontSize":6.5,"dy":-1,"baseline":"middle","color":"#222"},"encoding":{"text":{"field":"t"}}}
      ]}
     ]}
   ],"spacing":36,"resolve":{"scale":{"x":"independent","y":"independent","shape":"independent","color":"independent"}}}
  ],"spacing":29,"resolve":{"scale":{"x":"independent","y":"independent","shape":"independent","color":"independent"}}}
 ],"spacing":0,"resolve":{"scale":{"x":"independent","y":"independent","shape":"independent","color":"independent"}}},
 {"title":{"text":"MDM","fontSize":21,"anchor":"middle","frame":"bounds","offset":6,"dx":14},
  "vconcat":[
  {"hconcat":[
   {"hconcat":[
    {"width":105,"height":102,"title":{"text":"E","anchor":"start","frame":"bounds","fontSize":13.5,"offset":-10.5,"dx":-12.6},
     "encoding":{"x":{"field":"x","type":"quantitative","scale":{"domain":[-0.6,2.33],"nice":false,"zero":false},"axis":{"values":[0,1,2],"labelExpr":"['no cytokine','IFN-γ','IL-4'][datum.value]","title":null}},"y":{"field":"y","type":"quantitative","scale":{"domain":[0,6],"nice":false,"zero":false},"axis":{"values":[0,2,4,6],"title":["ECAR (fold change to","unprimed unstim)"]}}},
     "layer":[
      {"data":{"name":"E1p"},"transform":[{"calculate":"indexof(['N','I','L'],datum.g)","as":"c"}],"layer":[
       {"transform":[{"calculate":"datum.c-0.2","as":"x"},{"calculate":"datum.c+0.2","as":"x2"},{"calculate":"datum.u","as":"y"}],"mark":{"type":"rule","color":"#1a1a1a","strokeWidth":0.6},"encoding":{"x2":{"field":"x2"},"y2":{"field":"s"}}},
       {"transform":[{"fold":["u","s"],"as":["k","y"]},{"calculate":"datum.c+(datum.k=='u'?-0.2:0.2)","as":"x"}],"mark":{"type":"point","filled":true,"size":34,"opacity":1,"strokeWidth":0},"encoding":{"shape":{"field":"k","type":"nominal","scale":{"domain":["u","s"],"range":["M-2.2,0L2.2,0M1,0A1,1,0,1,1,-1,0A1,1,0,1,1,1,0Z","M-2.2,0L2.2,0M-0.9,-0.9L0.9,-0.9L0.9,0.9L-0.9,0.9Z"]},"legend":{"orient":"none","legendX":70,"legendY":-28,"title":null,"labelExpr":"datum.value=='u'?'Unstim':'iH37Rv'","symbolFillColor":"#000"}},"color":{"field":"g","type":"nominal","scale":{"domain":["N","I","L"],"range":["#000000","#ff0000","#0000d0"]},"legend":null}}}
      ]},
      {"data":{"name":"E1b"},"transform":[{"calculate":"indexof('NIL',substring(datum.a,0,1))+(substring(datum.a,1,2)=='u'?-0.2:0.2)","as":"x"},{"calculate":"indexof('NIL',substring(datum.b,0,1))+(substring(datum.b,1,2)=='u'?-0.2:0.2)","as":"x2"}],"layer":[
       {"mark":{"type":"rule","color":"#333","strokeWidth":0.7},"encoding":{"x2":{"field":"x2"}}},
       {"transform":[{"fold":["x","x2"],"as":["q","x"]}],"mark":{"type":"point","shape":"M0,-1L0,1","size":16,"filled":false,"color":"#333","strokeWidth":0.7,"opacity":1}},
       {"transform":[{"calculate":"(datum.x+datum.x2)/2","as":"x"}],"mark":{"type":"text","fontSize":6.5,"dy":-1,"baseline":"middle","color":"#222"},"encoding":{"text":{"field":"t"}}}
      ]}
     ]},
    {"width":100,"height":102,
     "encoding":{"x":{"field":"x","type":"quantitative","scale":{"domain":[-0.51,2.29],"nice":false,"zero":false},"axis":{"values":[0,1,2],"labelExpr":"['no cytokine','IFN-γ','IL-4'][datum.value]","title":null}},"y":{"field":"y","type":"quantitative","scale":{"domain":[0,6],"nice":false,"zero":false},"axis":{"values":[0,2,4,6],"title":["ECAR (fold change to","unprimed unstim)"]}}},
     "layer":[
      {"data":{"name":"E2p"},"transform":[{"calculate":"indexof(['N','I','L'],datum.g)","as":"c"}],"layer":[
       {"transform":[{"calculate":"datum.c-0.2","as":"x"},{"calculate":"datum.c+0.2","as":"x2"},{"calculate":"datum.u","as":"y"}],"mark":{"type":"rule","color":"#1a1a1a","strokeWidth":0.6},"encoding":{"x2":{"field":"x2"},"y2":{"field":"s"}}},
       {"transform":[{"fold":["u","s"],"as":["k","y"]},{"calculate":"datum.c+(datum.k=='u'?-0.2:0.2)","as":"x"}],"mark":{"type":"point","filled":true,"size":34,"opacity":1,"strokeWidth":0},"encoding":{"shape":{"field":"k","type":"nominal","scale":{"domain":["u","s"],"range":["M-2.2,0L2.2,0M1,0A1,1,0,1,1,-1,0A1,1,0,1,1,1,0Z","M-2.2,0.25L2.2,0.25M0,-1.05L1.1,0.9L-1.1,0.9Z"]},"legend":{"orient":"none","legendX":67,"legendY":-27,"title":null,"labelExpr":"datum.value=='u'?'Unstim':'LPS'","symbolFillColor":"#000"}},"color":{"field":"g","type":"nominal","scale":{"domain":["N","I","L"],"range":["#000000","#ff0000","#0000d0"]},"legend":null}}}
      ]},
      {"data":{"name":"E2b"},"transform":[{"calculate":"indexof('NIL',substring(datum.a,0,1))+(substring(datum.a,1,2)=='u'?-0.2:0.2)","as":"x"},{"calculate":"indexof('NIL',substring(datum.b,0,1))+(substring(datum.b,1,2)=='u'?-0.2:0.2)","as":"x2"}],"layer":[
       {"mark":{"type":"rule","color":"#333","strokeWidth":0.7},"encoding":{"x2":{"field":"x2"}}},
       {"transform":[{"fold":["x","x2"],"as":["q","x"]}],"mark":{"type":"point","shape":"M0,-1L0,1","size":16,"filled":false,"color":"#333","strokeWidth":0.7,"opacity":1}},
       {"transform":[{"calculate":"(datum.x+datum.x2)/2","as":"x"}],"mark":{"type":"text","fontSize":6.5,"dy":-1,"baseline":"middle","color":"#222"},"encoding":{"text":{"field":"t"}}}
      ]}
     ]}
   ],"spacing":43,"resolve":{"scale":{"x":"independent","y":"independent","shape":"independent","color":"independent"}}},
   {"hconcat":[
    {"width":98,"height":102,"title":{"text":"F","anchor":"start","frame":"bounds","fontSize":13.5,"offset":-7.5,"dx":-6.6},
     "encoding":{"x":{"field":"x","type":"quantitative","scale":{"domain":[-0.35,2.39],"nice":false,"zero":false},"axis":{"values":[0,1,2],"labelExpr":"['no cytokine','IFN-γ','IL-4'][datum.value]","title":null}},"y":{"field":"y","type":"quantitative","scale":{"domain":[0,3],"nice":false,"zero":false},"axis":{"values":[0,1,2,3],"title":["OCR (fold change to","unprimed unstim)"]}}},
     "layer":[
      {"data":{"name":"F1p"},"transform":[{"calculate":"indexof(['N','I','L'],datum.g)","as":"c"}],"layer":[
       {"transform":[{"calculate":"datum.c-0.2","as":"x"},{"calculate":"datum.c+0.2","as":"x2"},{"calculate":"datum.u","as":"y"}],"mark":{"type":"rule","color":"#1a1a1a","strokeWidth":0.6},"encoding":{"x2":{"field":"x2"},"y2":{"field":"s"}}},
       {"transform":[{"fold":["u","s"],"as":["k","y"]},{"calculate":"datum.c+(datum.k=='u'?-0.2:0.2)","as":"x"}],"mark":{"type":"point","filled":true,"size":34,"opacity":1,"strokeWidth":0},"encoding":{"shape":{"field":"k","type":"nominal","scale":{"domain":["u","s"],"range":["M-2.2,0L2.2,0M1,0A1,1,0,1,1,-1,0A1,1,0,1,1,1,0Z","M-2.2,0L2.2,0M-0.9,-0.9L0.9,-0.9L0.9,0.9L-0.9,0.9Z"]},"legend":{"orient":"none","legendX":61,"legendY":-31,"title":null,"labelExpr":"datum.value=='u'?'Unstim':'iH37Rv'","symbolFillColor":"#000"}},"color":{"field":"g","type":"nominal","scale":{"domain":["N","I","L"],"range":["#000000","#ff0000","#0000d0"]},"legend":null}}}
      ]},
      {"data":{"name":"F1b"},"transform":[{"calculate":"indexof('NIL',substring(datum.a,0,1))+(substring(datum.a,1,2)=='u'?-0.2:0.2)","as":"x"},{"calculate":"indexof('NIL',substring(datum.b,0,1))+(substring(datum.b,1,2)=='u'?-0.2:0.2)","as":"x2"}],"layer":[
       {"mark":{"type":"rule","color":"#333","strokeWidth":0.7},"encoding":{"x2":{"field":"x2"}}},
       {"transform":[{"fold":["x","x2"],"as":["q","x"]}],"mark":{"type":"point","shape":"M0,-1L0,1","size":16,"filled":false,"color":"#333","strokeWidth":0.7,"opacity":1}},
       {"transform":[{"calculate":"(datum.x+datum.x2)/2","as":"x"}],"mark":{"type":"text","fontSize":6.5,"dy":-1,"baseline":"middle","color":"#222"},"encoding":{"text":{"field":"t"}}}
      ]}
     ]},
    {"width":90,"height":102,
     "encoding":{"x":{"field":"x","type":"quantitative","scale":{"domain":[-0.45,2.36],"nice":false,"zero":false},"axis":{"values":[0,1,2],"labelExpr":"['no cytokine','IFN-γ','IL-4'][datum.value]","title":null}},"y":{"field":"y","type":"quantitative","scale":{"domain":[0,3],"nice":false,"zero":false},"axis":{"values":[0,1,2,3],"title":["OCR (fold change to","unprimed unstim)"]}}},
     "layer":[
      {"data":{"name":"F2p"},"transform":[{"calculate":"indexof(['N','I','L'],datum.g)","as":"c"}],"layer":[
       {"transform":[{"calculate":"datum.c-0.2","as":"x"},{"calculate":"datum.c+0.2","as":"x2"},{"calculate":"datum.u","as":"y"}],"mark":{"type":"rule","color":"#1a1a1a","strokeWidth":0.6},"encoding":{"x2":{"field":"x2"},"y2":{"field":"s"}}},
       {"transform":[{"fold":["u","s"],"as":["k","y"]},{"calculate":"datum.c+(datum.k=='u'?-0.2:0.2)","as":"x"}],"mark":{"type":"point","filled":true,"size":34,"opacity":1,"strokeWidth":0},"encoding":{"shape":{"field":"k","type":"nominal","scale":{"domain":["u","s"],"range":["M-2.2,0L2.2,0M1,0A1,1,0,1,1,-1,0A1,1,0,1,1,1,0Z","M-2.2,0.25L2.2,0.25M0,-1.05L1.1,0.9L-1.1,0.9Z"]},"legend":{"orient":"none","legendX":55,"legendY":-27,"title":null,"labelExpr":"datum.value=='u'?'Unstim':'LPS'","symbolFillColor":"#000"}},"color":{"field":"g","type":"nominal","scale":{"domain":["N","I","L"],"range":["#000000","#ff0000","#0000d0"]},"legend":null}}}
      ]},
      {"data":{"name":"F2b"},"transform":[{"calculate":"indexof('NIL',substring(datum.a,0,1))+(substring(datum.a,1,2)=='u'?-0.2:0.2)","as":"x"},{"calculate":"indexof('NIL',substring(datum.b,0,1))+(substring(datum.b,1,2)=='u'?-0.2:0.2)","as":"x2"}],"layer":[
       {"mark":{"type":"rule","color":"#333","strokeWidth":0.7},"encoding":{"x2":{"field":"x2"}}},
       {"transform":[{"fold":["x","x2"],"as":["q","x"]}],"mark":{"type":"point","shape":"M0,-1L0,1","size":16,"filled":false,"color":"#333","strokeWidth":0.7,"opacity":1}},
       {"transform":[{"calculate":"(datum.x+datum.x2)/2","as":"x"}],"mark":{"type":"text","fontSize":6.5,"dy":-1,"baseline":"middle","color":"#222"},"encoding":{"text":{"field":"t"}}}
      ]}
     ]}
   ],"spacing":47,"resolve":{"scale":{"x":"independent","y":"independent","shape":"independent","color":"independent"}}}
  ],"spacing":39,"resolve":{"scale":{"x":"independent","y":"independent","shape":"independent","color":"independent"}}},
  {"hconcat":[
   {"hconcat":[
    {"width":87,"height":95,"title":{"text":"G","anchor":"start","frame":"bounds","fontSize":13.5,"offset":-2.5,"dx":-4.8},
     "encoding":{"x":{"field":"x","type":"quantitative","scale":{"domain":[-0.4,2.29],"nice":false,"zero":false},"axis":{"values":[0,1,2],"labelExpr":"['no cytokine','IFN-γ','IL-4'][datum.value]","title":null}},"y":{"field":"y","type":"quantitative","scale":{"domain":[0,700],"nice":false,"zero":false},"axis":{"values":[0,100,200,300,400,500,600,700],"title":["ECAR (% Change compared to","respective baseline)"]}}},
     "layer":[
      {"data":{"name":"G1p"},"transform":[{"calculate":"indexof(['N','I','L'],datum.g)","as":"c"}],"layer":[
       {"transform":[{"calculate":"datum.c-0.2","as":"x"},{"calculate":"datum.c+0.2","as":"x2"},{"calculate":"datum.u","as":"y"}],"mark":{"type":"rule","color":"#1a1a1a","strokeWidth":0.6},"encoding":{"x2":{"field":"x2"},"y2":{"field":"s"}}},
       {"transform":[{"fold":["u","s"],"as":["k","y"]},{"calculate":"datum.c+(datum.k=='u'?-0.2:0.2)","as":"x"}],"mark":{"type":"point","filled":true,"size":34,"opacity":1,"strokeWidth":0},"encoding":{"shape":{"field":"k","type":"nominal","scale":{"domain":["u","s"],"range":["M-2.2,0L2.2,0M1,0A1,1,0,1,1,-1,0A1,1,0,1,1,1,0Z","M-2.2,0L2.2,0M-0.9,-0.9L0.9,-0.9L0.9,0.9L-0.9,0.9Z"]},"legend":{"orient":"none","legendX":62,"legendY":-20,"title":null,"labelExpr":"datum.value=='u'?'Unstim':'iH37Rv'","symbolFillColor":"#000"}},"color":{"field":"g","type":"nominal","scale":{"domain":["N","I","L"],"range":["#000000","#ff0000","#0000d0"]},"legend":null}}}
      ]},
      {"data":{"name":"G1b"},"transform":[{"calculate":"indexof('NIL',substring(datum.a,0,1))+(substring(datum.a,1,2)=='u'?-0.2:0.2)","as":"x"},{"calculate":"indexof('NIL',substring(datum.b,0,1))+(substring(datum.b,1,2)=='u'?-0.2:0.2)","as":"x2"}],"layer":[
       {"mark":{"type":"rule","color":"#333","strokeWidth":0.7},"encoding":{"x2":{"field":"x2"}}},
       {"transform":[{"fold":["x","x2"],"as":["q","x"]}],"mark":{"type":"point","shape":"M0,-1L0,1","size":16,"filled":false,"color":"#333","strokeWidth":0.7,"opacity":1}},
       {"transform":[{"calculate":"(datum.x+datum.x2)/2","as":"x"}],"mark":{"type":"text","fontSize":6.5,"dy":-1,"baseline":"middle","color":"#222"},"encoding":{"text":{"field":"t"}}}
      ]}
     ]},
    {"width":87,"height":95,
     "encoding":{"x":{"field":"x","type":"quantitative","scale":{"domain":[-0.4,2.3],"nice":false,"zero":false},"axis":{"values":[0,1,2],"labelExpr":"['no cytokine','IFN-γ','IL-4'][datum.value]","title":null}},"y":{"field":"y","type":"quantitative","scale":{"domain":[0,700],"nice":false,"zero":false},"axis":{"values":[0,100,200,300,400,500,600,700],"title":["ECAR (% Change compared to","respective baseline)"]}}},
     "layer":[
      {"data":{"name":"G2p"},"transform":[{"calculate":"indexof(['N','I','L'],datum.g)","as":"c"}],"layer":[
       {"transform":[{"calculate":"datum.c-0.2","as":"x"},{"calculate":"datum.c+0.2","as":"x2"},{"calculate":"datum.u","as":"y"}],"mark":{"type":"rule","color":"#1a1a1a","strokeWidth":0.6},"encoding":{"x2":{"field":"x2"},"y2":{"field":"s"}}},
       {"transform":[{"fold":["u","s"],"as":["k","y"]},{"calculate":"datum.c+(datum.k=='u'?-0.2:0.2)","as":"x"}],"mark":{"type":"point","filled":true,"size":34,"opacity":1,"strokeWidth":0},"encoding":{"shape":{"field":"k","type":"nominal","scale":{"domain":["u","s"],"range":["M-2.2,0L2.2,0M1,0A1,1,0,1,1,-1,0A1,1,0,1,1,1,0Z","M-2.2,0.25L2.2,0.25M0,-1.05L1.1,0.9L-1.1,0.9Z"]},"legend":{"orient":"none","legendX":60,"legendY":-20,"title":null,"labelExpr":"datum.value=='u'?'Unstim':'LPS'","symbolFillColor":"#000"}},"color":{"field":"g","type":"nominal","scale":{"domain":["N","I","L"],"range":["#000000","#ff0000","#0000d0"]},"legend":null}}}
      ]},
      {"data":{"name":"G2b"},"transform":[{"calculate":"indexof('NIL',substring(datum.a,0,1))+(substring(datum.a,1,2)=='u'?-0.2:0.2)","as":"x"},{"calculate":"indexof('NIL',substring(datum.b,0,1))+(substring(datum.b,1,2)=='u'?-0.2:0.2)","as":"x2"}],"layer":[
       {"mark":{"type":"rule","color":"#333","strokeWidth":0.7},"encoding":{"x2":{"field":"x2"}}},
       {"transform":[{"fold":["x","x2"],"as":["q","x"]}],"mark":{"type":"point","shape":"M0,-1L0,1","size":16,"filled":false,"color":"#333","strokeWidth":0.7,"opacity":1}},
       {"transform":[{"calculate":"(datum.x+datum.x2)/2","as":"x"}],"mark":{"type":"text","fontSize":6.5,"dy":-1,"baseline":"middle","color":"#222"},"encoding":{"text":{"field":"t"}}}
      ]}
     ]}
   ],"spacing":49,"resolve":{"scale":{"x":"independent","y":"independent","shape":"independent","color":"independent"}}},
   {"hconcat":[
    {"width":96,"height":95,"title":{"text":"H","anchor":"start","frame":"bounds","fontSize":13.5,"offset":-7.5,"dx":9.2},
     "encoding":{"x":{"field":"x","type":"quantitative","scale":{"domain":[-0.41,2.48],"nice":false,"zero":false},"axis":{"values":[0,1,2],"labelExpr":"['no cytokine','IFN-γ','IL-4'][datum.value]","title":null}},"y":{"field":"y","type":"quantitative","scale":{"domain":[50,120],"nice":false,"zero":false},"axis":{"values":[60,80,100,120],"title":["OCR (% Change compared to","respective baseline)"]}}},
     "layer":[
      {"data":{"name":"H1p"},"transform":[{"calculate":"indexof(['N','I','L'],datum.g)","as":"c"}],"layer":[
       {"transform":[{"calculate":"datum.c-0.2","as":"x"},{"calculate":"datum.c+0.2","as":"x2"},{"calculate":"datum.u","as":"y"}],"mark":{"type":"rule","color":"#1a1a1a","strokeWidth":0.6},"encoding":{"x2":{"field":"x2"},"y2":{"field":"s"}}},
       {"transform":[{"fold":["u","s"],"as":["k","y"]},{"calculate":"datum.c+(datum.k=='u'?-0.2:0.2)","as":"x"}],"mark":{"type":"point","filled":true,"size":34,"opacity":1,"strokeWidth":0},"encoding":{"shape":{"field":"k","type":"nominal","scale":{"domain":["u","s"],"range":["M-2.2,0L2.2,0M1,0A1,1,0,1,1,-1,0A1,1,0,1,1,1,0Z","M-2.2,0L2.2,0M-0.9,-0.9L0.9,-0.9L0.9,0.9L-0.9,0.9Z"]},"legend":{"orient":"none","legendX":60,"legendY":-28,"title":null,"labelExpr":"datum.value=='u'?'Unstim':'iH37Rv'","symbolFillColor":"#000"}},"color":{"field":"g","type":"nominal","scale":{"domain":["N","I","L"],"range":["#000000","#ff0000","#0000d0"]},"legend":null}}}
      ]},
      {"data":{"name":"H1b"},"transform":[{"calculate":"indexof('NIL',substring(datum.a,0,1))+(substring(datum.a,1,2)=='u'?-0.2:0.2)","as":"x"},{"calculate":"indexof('NIL',substring(datum.b,0,1))+(substring(datum.b,1,2)=='u'?-0.2:0.2)","as":"x2"}],"layer":[
       {"mark":{"type":"rule","color":"#333","strokeWidth":0.7},"encoding":{"x2":{"field":"x2"}}},
       {"transform":[{"fold":["x","x2"],"as":["q","x"]}],"mark":{"type":"point","shape":"M0,-1L0,1","size":16,"filled":false,"color":"#333","strokeWidth":0.7,"opacity":1}},
       {"transform":[{"calculate":"(datum.x+datum.x2)/2","as":"x"}],"mark":{"type":"text","fontSize":6.5,"dy":-1,"baseline":"middle","color":"#222"},"encoding":{"text":{"field":"t"}}}
      ]}
     ]},
    {"width":109,"height":95,
     "encoding":{"x":{"field":"x","type":"quantitative","scale":{"domain":[-0.87,2.4],"nice":false,"zero":false},"axis":{"values":[0,1,2],"labelExpr":"['no cytokine','IFN-γ','IL-4'][datum.value]","title":null}},"y":{"field":"y","type":"quantitative","scale":{"domain":[50,120],"nice":false,"zero":false},"axis":{"values":[60,80,100,120],"title":["OCR (% Change compared to","respective baseline)"]}}},
     "layer":[
      {"data":{"name":"H2p"},"transform":[{"calculate":"indexof(['N','I','L'],datum.g)","as":"c"}],"layer":[
       {"transform":[{"calculate":"datum.c-0.2","as":"x"},{"calculate":"datum.c+0.2","as":"x2"},{"calculate":"datum.u","as":"y"}],"mark":{"type":"rule","color":"#1a1a1a","strokeWidth":0.6},"encoding":{"x2":{"field":"x2"},"y2":{"field":"s"}}},
       {"transform":[{"fold":["u","s"],"as":["k","y"]},{"calculate":"datum.c+(datum.k=='u'?-0.2:0.2)","as":"x"}],"mark":{"type":"point","filled":true,"size":34,"opacity":1,"strokeWidth":0},"encoding":{"shape":{"field":"k","type":"nominal","scale":{"domain":["u","s"],"range":["M-2.2,0L2.2,0M1,0A1,1,0,1,1,-1,0A1,1,0,1,1,1,0Z","M-2.2,0.25L2.2,0.25M0,-1.05L1.1,0.9L-1.1,0.9Z"]},"legend":{"orient":"none","legendX":78,"legendY":-24,"title":null,"labelExpr":"datum.value=='u'?'Unstim':'LPS'","symbolFillColor":"#000"}},"color":{"field":"g","type":"nominal","scale":{"domain":["N","I","L"],"range":["#000000","#ff0000","#0000d0"]},"legend":null}}}
      ]},
      {"data":{"name":"H2b"},"transform":[{"calculate":"indexof('NIL',substring(datum.a,0,1))+(substring(datum.a,1,2)=='u'?-0.2:0.2)","as":"x"},{"calculate":"indexof('NIL',substring(datum.b,0,1))+(substring(datum.b,1,2)=='u'?-0.2:0.2)","as":"x2"}],"layer":[
       {"mark":{"type":"rule","color":"#333","strokeWidth":0.7},"encoding":{"x2":{"field":"x2"}}},
       {"transform":[{"fold":["x","x2"],"as":["q","x"]}],"mark":{"type":"point","shape":"M0,-1L0,1","size":16,"filled":false,"color":"#333","strokeWidth":0.7,"opacity":1}},
       {"transform":[{"calculate":"(datum.x+datum.x2)/2","as":"x"}],"mark":{"type":"text","fontSize":6.5,"dy":-1,"baseline":"middle","color":"#222"},"encoding":{"text":{"field":"t"}}}
      ]}
     ]}
   ],"spacing":22,"resolve":{"scale":{"x":"independent","y":"independent","shape":"independent","color":"independent"}}}
  ],"spacing":34,"resolve":{"scale":{"x":"independent","y":"independent","shape":"independent","color":"independent"}}}
 ],"spacing":11.5,"resolve":{"scale":{"x":"independent","y":"independent","shape":"independent","color":"independent"}}}
],"spacing":22,"resolve":{"scale":{"x":"independent","y":"independent","shape":"independent","color":"independent"}}},
{"hconcat":[
 {"width":280,"height":136,"title":{"text":"I","anchor":"start","frame":"bounds","fontSize":13.5,"offset":-0.5,"dx":-3.4},
  "encoding":{
   "x":{"field":"c","type":"nominal","sort":null,"scale":{"domain":["nc","IFN","IL4","H","HIFN","HIL4","L","LIFN","LIL4"],"paddingInner":0.3,"paddingOuter":0.2},"axis":{"title":null,"ticks":false,"labelAngle":0,"labelFontSize":10,"labelPadding":4,"labelLineHeight":10,"labelExpr":"datum.value=='nc'?['no','cytokine']:indexof(datum.value,'IFN')>=0?'IFN-γ':indexof(datum.value,'IL4')>=0?'IL-4':''"}},
   "y":{"field":"m","type":"quantitative","scale":{"domain":[0,5],"nice":false,"zero":false},"axis":{"values":[0,1,2,3,4,5],"labelFontSize":10,"titleFontSize":10,"titleLineHeight":12,"tickSize":4,"titlePadding":5,"title":["ECAR (fold change to","unprimed unstim)"]}}},
  "layer":[
   {"data":{"name":"Ib"},"layer":[
    {"mark":{"type":"bar","stroke":"#000","strokeWidth":1},"encoding":{"xOffset":{"field":"t","type":"nominal","scale":{"domain":["MDM","AM"]}},"fill":{"field":"t","type":"nominal","scale":{"domain":["MDM","AM"],"range":["#000000","#ffffff"]},"legend":{"orient":"none","legendX":7,"legendY":-5,"title":null,"symbolType":"M-1,-0.5L1,-0.5L1,0.5L-1,0.5Z","symbolSize":256,"symbolStrokeColor":"#000","symbolStrokeWidth":1,"labelFontSize":10.5,"labelOffset":5,"rowPadding":0}}}},
    {"transform":[{"filter":"isValid(datum.e)"}],"mark":{"type":"rule","color":"#555","strokeWidth":1},"encoding":{"xOffset":{"field":"t","type":"nominal","scale":{"domain":["MDM","AM"]}},"y2":{"field":"e"}}},
    {"transform":[{"filter":"isValid(datum.e)"},{"calculate":"datum.e","as":"m"}],"mark":{"type":"tick","color":"#555","thickness":1,"size":6},"encoding":{"xOffset":{"field":"t","type":"nominal","scale":{"domain":["MDM","AM"]}}}}
   ]},
   {"data":{"name":"ann"},"transform":[{"calculate":"0","as":"m"}],"layer":[
    {"mark":{"type":"rule","color":"#666","strokeWidth":1,"yOffset":22},"encoding":{"x2":{"field":"c2"}}},
    {"transform":[{"calculate":"datum.cm","as":"c"}],"mark":{"type":"text","fontSize":10,"baseline":"middle","dy":31,"color":"#000"},"encoding":{"text":{"field":"t"}}}
   ]}
  ]},
 {"width":295,"height":142,"title":{"text":"J","anchor":"start","frame":"bounds","fontSize":13.5,"offset":-3.5,"dx":-18.4},
  "encoding":{
   "x":{"field":"c","type":"nominal","sort":null,"scale":{"domain":["nc","IFN","IL4","H","HIFN","HIL4","L","LIFN","LIL4"],"paddingInner":0.3,"paddingOuter":0.2},"axis":{"title":null,"ticks":false,"labelAngle":0,"labelFontSize":10,"labelPadding":4,"labelLineHeight":10,"labelExpr":"datum.value=='nc'?['no','cytokine']:indexof(datum.value,'IFN')>=0?'IFN-γ':indexof(datum.value,'IL4')>=0?'IL-4':''"}},
   "y":{"field":"m","type":"quantitative","scale":{"domain":[0,3],"nice":false,"zero":false},"axis":{"values":[0,1,2,3],"labelFontSize":10,"titleFontSize":10,"titleLineHeight":12,"tickSize":4,"titlePadding":5,"title":["OCR (fold change to","unprimed unstim)"]}}},
  "layer":[
   {"data":{"name":"Jb"},"layer":[
    {"mark":{"type":"bar","stroke":"#000","strokeWidth":1},"encoding":{"xOffset":{"field":"t","type":"nominal","scale":{"domain":["MDM","AM"]}},"fill":{"field":"t","type":"nominal","scale":{"domain":["MDM","AM"],"range":["#000000","#ffffff"]},"legend":{"orient":"none","legendX":3,"legendY":-8,"title":null,"symbolType":"M-1,-0.5L1,-0.5L1,0.5L-1,0.5Z","symbolSize":256,"symbolStrokeColor":"#000","symbolStrokeWidth":1,"labelFontSize":10.5,"labelOffset":5,"rowPadding":0}}}},
    {"transform":[{"filter":"isValid(datum.e)"}],"mark":{"type":"rule","color":"#555","strokeWidth":1},"encoding":{"xOffset":{"field":"t","type":"nominal","scale":{"domain":["MDM","AM"]}},"y2":{"field":"e"}}},
    {"transform":[{"filter":"isValid(datum.e)"},{"calculate":"datum.e","as":"m"}],"mark":{"type":"tick","color":"#555","thickness":1,"size":6},"encoding":{"xOffset":{"field":"t","type":"nominal","scale":{"domain":["MDM","AM"]}}}}
   ]},
   {"data":{"name":"Jbr"},"transform":[{"calculate":"datum.y","as":"m"}],"layer":[
    {"mark":{"type":"tick","color":"#222","thickness":0.8,"size":11}},
    {"transform":[{"fold":["MDM","AM"],"as":["k","v"]}],"mark":{"type":"point","shape":"M0,-1L0,1","size":25,"filled":false,"color":"#222","strokeWidth":0.8,"opacity":1},"encoding":{"xOffset":{"field":"k","type":"nominal","scale":{"domain":["MDM","AM"]}}}},
    {"mark":{"type":"text","fontSize":9,"baseline":"middle","dy":-5},"encoding":{"text":{"field":"t"}}}
   ]},
   {"data":{"name":"ann"},"transform":[{"calculate":"0","as":"m"}],"layer":[
    {"mark":{"type":"rule","color":"#666","strokeWidth":1,"yOffset":23},"encoding":{"x2":{"field":"c2"}}},
    {"transform":[{"calculate":"datum.cm","as":"c"}],"mark":{"type":"text","fontSize":10,"baseline":"middle","dy":31,"color":"#000"},"encoding":{"text":{"field":"t"}}}
   ]}
  ]}
],"spacing":36,"resolve":{"scale":{"x":"independent","y":"independent","fill":"independent","xOffset":"independent"}}}
],
"spacing":37.5,
"resolve":{"scale":{"x":"independent","y":"independent","shape":"independent","color":"independent","fill":"independent"}}
}
